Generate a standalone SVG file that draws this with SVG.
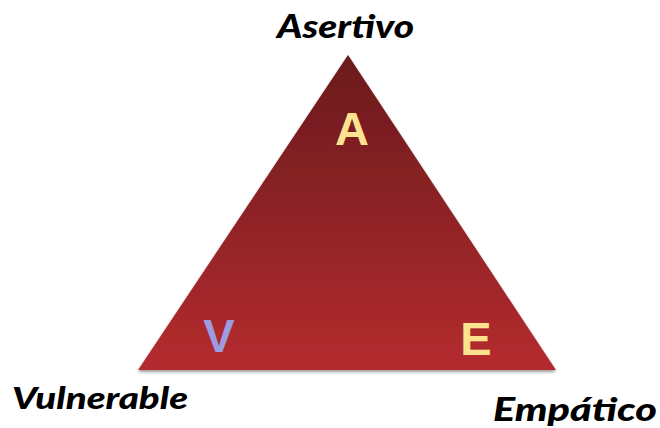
<svg xmlns="http://www.w3.org/2000/svg" width="660" height="428" viewBox="0 0 660 428">
<style>
.lbl{font-family:Lato,"Open Sans","DejaVu Sans",sans-serif;font-weight:900;font-style:italic;fill:#000}
.ltr{font-family:"Liberation Sans",Arial,sans-serif;font-weight:bold;text-anchor:middle}
</style>
<defs>
<linearGradient id="g" x1="0" y1="0" x2="0" y2="1">
<stop offset="0" stop-color="#6a1a1c"/>
<stop offset="0.5" stop-color="#8e2326"/>
<stop offset="1" stop-color="#b52b2e"/>
</linearGradient>
<filter id="sh" x="-10%" y="-10%" width="120%" height="130%">
<feGaussianBlur in="SourceAlpha" stdDeviation="1.5"/>
<feOffset dy="2"/>
<feComponentTransfer><feFuncA type="linear" slope="0.4"/></feComponentTransfer>
<feMerge><feMergeNode/><feMergeNode in="SourceGraphic"/></feMerge>
</filter>
</defs>
<rect width="660" height="428" fill="#fff"/>
<g id="triangle">
<polygon points="348,55 138,370 556,370" fill="url(#g)" filter="url(#sh)"/>
<text class="ltr" x="352" y="145" font-size="47" fill="#fde290">A</text>
<text class="ltr" x="219" y="352" font-size="47" fill="#9d9ce0">V</text>
<text class="ltr" x="476" y="355" font-size="47" fill="#fde290">E</text>
</g>
<g id="asertivo"><text class="lbl" x="277" y="38" font-size="33" textLength="137" lengthAdjust="spacingAndGlyphs">Asertivo</text></g>
<g id="vulnerable"><text class="lbl" x="12" y="409" font-size="31" textLength="176" lengthAdjust="spacingAndGlyphs">Vulnerable</text></g>
<g id="empatico"><text class="lbl" x="493" y="421" font-size="32" textLength="164" lengthAdjust="spacingAndGlyphs">Empático</text></g>
</svg>
